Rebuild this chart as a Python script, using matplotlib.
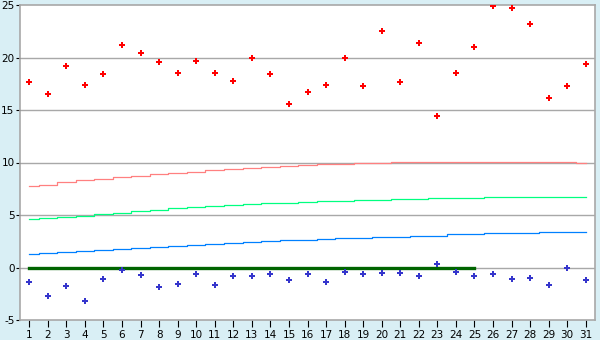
import matplotlib
matplotlib.use("Agg")
import matplotlib.pyplot as plt

plt.rcParams['axes.unicode_minus'] = False
plt.rcParams['font.family'] = ['DejaVu Sans']

# giorni del mese
days = list(range(1, 32))

# massime osservate (rombi rossi)
tmax = [17.7, 16.5, 19.2, 17.4, 18.4, 21.2, 20.4, 19.6, 18.5, 19.7,
        18.5, 17.8, 20.0, 18.4, 15.6, 16.7, 17.4, 20.0, 17.3, 22.5,
        17.7, 21.4, 14.4, 18.5, 21.0, 24.9, 24.7, 23.2, 16.1, 17.3, 19.4]

# minime osservate (rombi blu)
tmin = [-1.4, -2.7, -1.8, -3.2, -1.1, -0.2, -0.7, -1.9, -1.6, -0.6,
        -1.7, -0.8, -0.8, -0.6, -1.2, -0.6, -1.4, -0.4, -0.6, -0.5,
        -0.5, -0.8, 0.3, -0.4, -0.8, -0.6, -1.1, -1.0, -1.7, 0.0, -1.2]

# curve di riferimento
ref_red = [7.73, 7.90, 8.14, 8.33, 8.46, 8.59, 8.71, 8.90, 9.00, 9.13,
           9.29, 9.38, 9.51, 9.60, 9.70, 9.79, 9.86, 9.86, 9.95, 9.95,
           10.04, 10.04, 10.04, 10.04, 10.04, 10.04, 10.04, 10.04, 10.04, 10.04, 9.92]
ref_green = [4.59, 4.71, 4.78, 4.90, 5.06, 5.19, 5.35, 5.48, 5.67, 5.76,
             5.86, 5.95, 6.05, 6.14, 6.14, 6.24, 6.33, 6.33, 6.43, 6.43,
             6.52, 6.52, 6.62, 6.62, 6.62, 6.71, 6.71, 6.71, 6.71, 6.71, 6.71]
ref_blue = [1.29, 1.38, 1.48, 1.57, 1.67, 1.76, 1.86, 1.95, 2.05, 2.14,
            2.24, 2.33, 2.43, 2.52, 2.62, 2.62, 2.71, 2.81, 2.81, 2.90,
            2.90, 3.00, 3.02, 3.16, 3.16, 3.26, 3.26, 3.26, 3.35, 3.35, 3.35]

# linea dello zero (giorni 1-25)
zero_days = list(range(1, 26))
zero_vals = [0] * len(zero_days)

bg = '#d9eff5'
grid_col = '#a8a8a8'

fig = plt.figure(figsize=(6, 3.4), dpi=100, facecolor=bg)
ax = fig.add_axes([20 / 600, 20 / 340, 575 / 600, 315 / 340])
ax.set_facecolor('white')

ax.set_xlim(0.5, 31.5)
ax.set_ylim(-5, 25)
ax.set_yticks([-5, 0, 5, 10, 15, 20, 25])
ax.set_xticks(days)

for y in [0, 5, 10, 15, 20]:
    ax.axhline(y, color=grid_col, lw=1, zorder=1)

ax.plot(days, ref_red, color='#ff8080', lw=0.9, drawstyle='steps-mid', zorder=2)
ax.plot(days, ref_green, color='#00ff80', lw=0.9, drawstyle='steps-mid', zorder=2)
ax.plot(days, ref_blue, color='#0080ff', lw=0.9, drawstyle='steps-mid', zorder=2)
ax.plot(zero_days, zero_vals, color='#006400', lw=2.4, zorder=3)

ax.plot(days, tmax, linestyle='none', marker='P', ms=4.6, mew=0, color='#ff0000', zorder=4)
ax.plot(days, tmin, linestyle='none', marker='P', ms=4.6, mew=0, color='#3535cc', zorder=4)

for s in ax.spines.values():
    s.set_color(grid_col)
    s.set_linewidth(1.2)

ax.tick_params(axis='both', direction='out', color='black', labelsize=7.5,
               length=3, width=0.8, pad=1)
ax.tick_params(axis='x', length=5, pad=2)

plt.savefig('out.png', dpi=100, facecolor=bg)
